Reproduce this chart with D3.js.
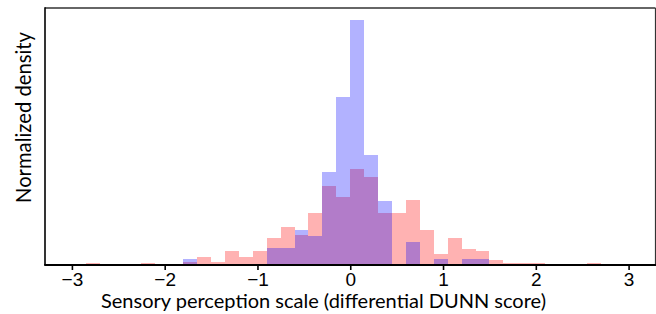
<!DOCTYPE html>
<html>
<head>
<meta charset="utf-8">
<script src="https://cdn.jsdelivr.net/npm/d3@7"></script>
<style>
  html, body { margin: 0; padding: 0; background: #fff; }
  svg { display: block; }
</style>
</head>
<body>
<svg id="chart" width="656" height="314"></svg>
<script>
// ---- data ----
const binWidth = 0.15;
const binStarts = [-2.85, -2.7, -2.55, -2.4, -2.25, -2.1, -1.95, -1.8, -1.65, -1.5,
  -1.35, -1.2, -1.05, -0.9, -0.75, -0.6, -0.45, -0.3, -0.15, 0,
  0.15, 0.3, 0.45, 0.6, 0.75, 0.9, 1.05, 1.2, 1.35, 1.5,
  1.65, 1.8, 1.95, 2.1, 2.25, 2.4, 2.55];
const redDensity = [0.012, 0, 0, 0, 0.012, 0, 0, 0.016, 0.057, 0.014,
  0.104, 0.057, 0.104, 0.213, 0.304, 0.241, 0.421, 0.642, 0.552, 0.779,
  0.711, 0.421, 0.421, 0.527, 0.283, 0.078, 0.213, 0.126, 0.103, 0.035,
  0.012, 0.012, 0.012, 0, 0, 0, 0.012];
const blueDensity = [0, 0, 0, 0, 0, 0, 0, 0.039, 0, 0,
  0, 0, 0, 0.131, 0.131, 0.276, 0.230, 0.752, 1.372, 1.998,
  0.897, 0.514, 0, 0.180, 0, 0.037, 0, 0.037, 0.037, 0,
  0, 0, 0, 0, 0, 0, 0];
const xTicks = [-3, -2, -1, 0, 1, 2, 3];
const xDomain = [-3.29, 3.29];
const yMax = 2.1;
const xLabel = "Sensory perception scale (differential DUNN score)";
const yLabel = "Normalized density";

(function () {
  // ---- layout ----
  const pl = 45, pr = 655.5, pt = 8, pb = 265;
  const svg = d3.select("#chart");
  const x = d3.scaleLinear().domain(xDomain).range([pl, pr]);
  const y = d3.scaleLinear().domain([0, yMax]).range([pb - 1, pt]);

  function drawSeries(vals, color) {
    svg.append("g")
      .selectAll("rect")
      .data(binStarts.map((s, i) => ({ s, v: vals[i] })).filter(d => d.v > 0))
      .join("rect")
      .attr("x", d => x(d.s))
      .attr("width", d => x(d.s + binWidth) - x(d.s))
      .attr("y", d => y(d.v))
      .attr("height", d => y(0) - y(d.v))
      .attr("fill", color)
      .attr("fill-opacity", 0.3)
      .attr("shape-rendering", "crispEdges");
  }
  drawSeries(redDensity, "#ff0000");
  drawSeries(blueDensity, "#0000ff");

  // spines
  svg.append("line").attr("x1", pl).attr("x2", pr).attr("y1", pt).attr("y2", pt)
    .attr("stroke", "#333").attr("stroke-width", 1.6);
  svg.append("line").attr("x1", pr).attr("x2", pr).attr("y1", pt).attr("y2", pb)
    .attr("stroke", "#333").attr("stroke-width", 1.2);
  svg.append("line").attr("x1", pl).attr("x2", pl).attr("y1", pt - 0.8).attr("y2", pb)
    .attr("stroke", "#000").attr("stroke-width", 1.6);

  // x axis
  const xAxis = d3.axisBottom(x).tickValues(xTicks).tickSize(5).tickPadding(3)
    .tickFormat(d => d < 0 ? "\u2212" + Math.abs(d) : String(d));
  const gx = svg.append("g").attr("transform", `translate(0,${pb})`).call(xAxis);
  gx.select(".domain").attr("d", `M${pl - 0.8},0H${pr + 0.6}`).attr("stroke", "#000").attr("stroke-width", 2);
  gx.selectAll(".tick line").attr("stroke", "#000").attr("stroke-width", 1.6);
  gx.selectAll(".tick text").attr("font-family", "'Liberation Sans', Arial, sans-serif")
    .attr("font-size", 19).attr("fill", "#000");

  // labels, fitted to reference widths
  function fitText(sel, targetWidth, baseSize) {
    sel.attr("font-size", baseSize);
    const w = sel.node().getComputedTextLength();
    sel.attr("font-size", baseSize * targetWidth / w);
  }
  const xl = svg.append("text").attr("x", 323.5).attr("y", 308)
    .attr("text-anchor", "middle").attr("font-family", "Lato, 'Open Sans', sans-serif")
    .attr("fill", "#000").text(xLabel);
  fitText(xl, 445, 20);

  const yl = svg.append("text").attr("transform", "translate(31,117.5) rotate(-90)")
    .attr("text-anchor", "middle").attr("font-family", "Lato, 'Open Sans', sans-serif")
    .attr("fill", "#000").text(yLabel);
  fitText(yl, 171, 20);
})();
</script>
</body>
</html>
